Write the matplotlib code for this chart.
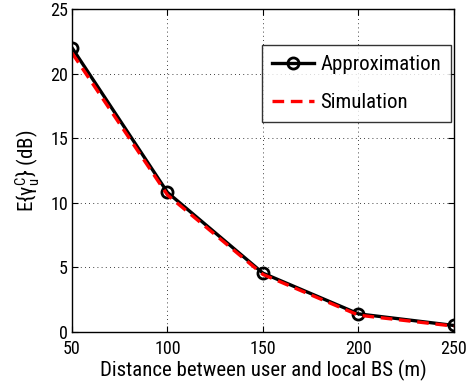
import matplotlib
matplotlib.use('Agg')
import matplotlib.pyplot as plt

distance = [50, 100, 150, 200, 250]
approx = [22.0, 10.8, 4.55, 1.4, 0.5]
simul = [21.6, 10.6, 4.45, 1.3, 0.45]

plt.rcParams['font.family'] = ['Roboto Condensed', 'Liberation Sans', 'DejaVu Sans']
plt.rcParams['mathtext.fontset'] = 'custom'
plt.rcParams['mathtext.rm'] = 'Roboto Condensed'
plt.rcParams['mathtext.it'] = 'Roboto Condensed'

fig = plt.figure(figsize=(4.69, 3.91), dpi=100)
ax = fig.add_axes([0.1535, 0.151, 0.8145, 0.826])

ax.plot(distance, approx, color='black', lw=2.4, marker='o', ms=8,
        mfc='none', mew=2, label='Approximation')
ax.plot(distance, simul, color='red', lw=2.4, ls=(0, (3.5, 2)), label='Simulation')

ax.set_xlim(50, 250)
ax.set_ylim(0, 25)
ax.set_xticks([50, 100, 150, 200, 250])
ax.set_yticks([0, 5, 10, 15, 20, 25])
ax.grid(True, ls=(0, (1, 4)), color='black', lw=0.6)
ax.tick_params(direction='in', top=True, right=True, labelsize=13, length=4)
ax.tick_params(axis='x', pad=6)
ax.tick_params(axis='y', pad=3)
for s in ax.spines.values():
    s.set_linewidth(1.0)

ax.set_xlabel('Distance between user and local BS (m)', fontsize=15, labelpad=1)
ax.set_ylabel(r'E$\{\gamma_u^C\}$ (dB)', fontsize=15, labelpad=6)

leg = ax.legend(loc='upper right', bbox_to_anchor=(0.993, 0.889), fontsize=15,
                frameon=True, fancybox=False, edgecolor='black',
                handlelength=2.0, borderpad=0.5, labelspacing=0.9, handletextpad=0.3,
                borderaxespad=0)
leg.get_frame().set_linewidth(1.0)

fig.savefig('out.png', dpi=100)
